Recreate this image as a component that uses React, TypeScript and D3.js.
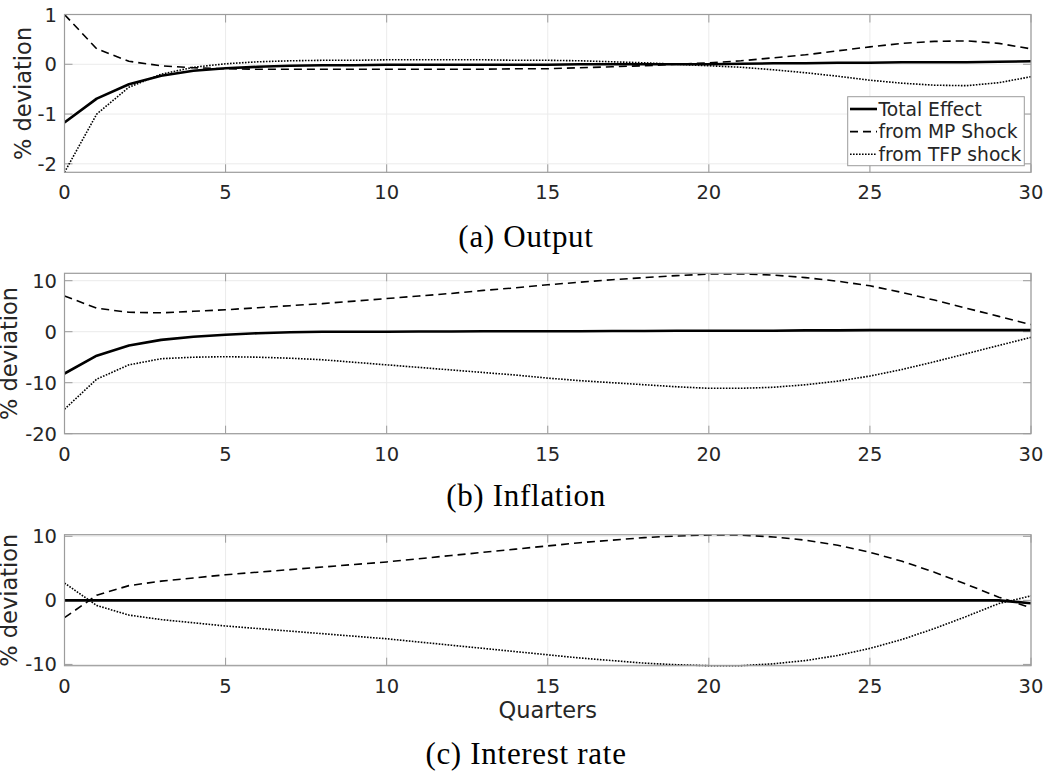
import React from "react";
import * as d3 from "d3";

const QUARTERS = [0,1,2,3,4,5,6,7,8,9,10,11,12,13,14,15,16,17,18,19,20,21,22,23,24,25,26,27,28,29,30];

// (a) Output
const OUT_TOTAL = [-1.17,-0.69,-0.40,-0.23,-0.13,-0.08,-0.05,-0.03,-0.02,-0.02,-0.01,-0.01,-0.01,-0.01,-0.01,-0.01,0.0,0.0,0.0,0.0,0.0,0.01,0.02,0.02,0.03,0.03,0.04,0.04,0.04,0.05,0.06];
const OUT_MP = [1.0,0.31,0.06,-0.03,-0.07,-0.09,-0.10,-0.10,-0.10,-0.10,-0.10,-0.10,-0.10,-0.10,-0.09,-0.09,-0.07,-0.05,-0.03,0.0,0.03,0.07,0.13,0.19,0.27,0.35,0.42,0.46,0.47,0.42,0.31];
const OUT_TFP = [-2.17,-1.0,-0.46,-0.20,-0.06,0.01,0.05,0.07,0.08,0.08,0.09,0.09,0.09,0.09,0.08,0.08,0.07,0.05,0.03,0.0,-0.03,-0.06,-0.11,-0.17,-0.24,-0.32,-0.38,-0.42,-0.43,-0.37,-0.25];

// (b) Inflation
const INF_TOTAL = [-8.2,-4.7,-2.7,-1.6,-1.0,-0.6,-0.3,-0.1,0.0,0.0,0.0,0.05,0.05,0.1,0.1,0.1,0.1,0.15,0.15,0.2,0.2,0.2,0.2,0.25,0.25,0.3,0.3,0.3,0.3,0.3,0.3];
const INF_MP = [7.0,4.6,3.8,3.7,4.0,4.3,4.7,5.1,5.5,6.0,6.5,7.0,7.5,8.1,8.6,9.2,9.7,10.2,10.6,11.0,11.3,11.35,11.1,10.6,9.9,9.0,7.7,6.2,4.6,3.0,1.4];
const INF_TFP = [-15.2,-9.3,-6.5,-5.3,-5.0,-4.9,-5.0,-5.2,-5.5,-6.0,-6.5,-7.0,-7.5,-8.0,-8.5,-9.1,-9.6,-10.0,-10.4,-10.8,-11.1,-11.1,-10.9,-10.4,-9.7,-8.7,-7.4,-5.9,-4.3,-2.7,-1.1];

// (c) Interest rate
const INT_TOTAL = [0.0,0.0,0.0,0.0,0.0,0.0,0.0,0.0,0.0,0.0,0.0,0.0,0.0,0.0,0.0,0.0,0.0,0.0,0.0,0.0,0.0,0.0,0.0,0.0,0.0,0.0,0.0,0.0,0.0,0.0,-0.45];
const INT_MP = [-2.7,0.8,2.3,3.0,3.5,4.0,4.4,4.8,5.2,5.6,6.0,6.5,7.0,7.5,8.0,8.5,9.0,9.4,9.8,10.05,10.2,10.2,9.9,9.4,8.6,7.5,6.1,4.4,2.5,0.5,-1.15];
const INT_TFP = [2.7,-0.8,-2.3,-3.0,-3.5,-4.0,-4.4,-4.8,-5.2,-5.6,-6.0,-6.5,-7.0,-7.5,-8.0,-8.5,-9.0,-9.4,-9.8,-10.05,-10.2,-10.2,-9.9,-9.4,-8.6,-7.5,-6.1,-4.4,-2.5,-0.5,0.7];

const X_TICKS = [0,5,10,15,20,25,30];
const OUT_Y_TICKS = [-2,-1,0,1];
const INF_Y_TICKS = [-20,-10,0,10];
const INT_Y_TICKS = [-10,0,10];

const LEGEND_LABELS = ["Total Effect", "from MP Shock", "from TFP shock"];
const CAPTIONS = ["(a) Output", "(b) Inflation", "(c) Interest rate"];
const Y_LABEL = "% deviation";
const X_LABEL = "Quarters";

const LEFT = 64.5;
const RIGHT = 1031;
const BOX = "#9c9c9c";
const GRID = "#ebebeb";
const TXT = "#262626";
const SANS = "'DejaVu Sans', sans-serif";
const SERIF = "'Liberation Serif', serif";

const STYLES = [
  { width: 2.6, dash: null as string | null },
  { width: 1.6, dash: "8,5" },
  { width: 1.6, dash: "1.6,1.4" },
];

type PanelProps = {
  top: number;
  bottom: number;
  domain: [number, number];
  yTicks: number[];
  series: number[][];
  caption: string;
  captionY: number;
  yLabelX: number;
  showLegend?: boolean;
  showXLabel?: boolean;
};

function Panel(p: PanelProps) {
  const x = d3.scaleLinear().domain([0, 30]).range([LEFT, RIGHT]);
  const y = d3.scaleLinear().domain(p.domain).range([p.bottom, p.top]);
  const line = d3
    .line<number>()
    .x((_, i) => x(QUARTERS[i]))
    .y((d) => y(d));
  const tickLen = 8;
  const clipId = `clip-${Math.round(p.top)}`;
  const midY = (p.top + p.bottom) / 2;
  return (
    <g>
      <defs>
        <clipPath id={clipId}>
          <rect x={LEFT} y={p.top - 2} width={RIGHT - LEFT} height={p.bottom - p.top + 4} />
        </clipPath>
      </defs>
      {X_TICKS.map((t) => (
        <line key={"gx" + t} x1={x(t)} x2={x(t)} y1={p.top} y2={p.bottom} stroke={GRID} strokeWidth={1} />
      ))}
      {p.yTicks.map((t) => (
        <line key={"gy" + t} x1={LEFT} x2={RIGHT} y1={y(t)} y2={y(t)} stroke={GRID} strokeWidth={1} />
      ))}
      {X_TICKS.map((t) => (
        <g key={"tx" + t}>
          <line x1={x(t)} x2={x(t)} y1={p.bottom} y2={p.bottom - tickLen} stroke={BOX} strokeWidth={1} />
          <line x1={x(t)} x2={x(t)} y1={p.top} y2={p.top + tickLen} stroke={BOX} strokeWidth={1} />
        </g>
      ))}
      {p.yTicks.map((t) => (
        <g key={"ty" + t}>
          <line x1={LEFT} x2={LEFT + tickLen} y1={y(t)} y2={y(t)} stroke={BOX} strokeWidth={1} />
          <line x1={RIGHT} x2={RIGHT - tickLen} y1={y(t)} y2={y(t)} stroke={BOX} strokeWidth={1} />
        </g>
      ))}
      <g clipPath={`url(#${clipId})`}>
        {p.series.map((s, i) => (
          <path
            key={"s" + i}
            d={line(s) || ""}
            fill="none"
            stroke="#000"
            strokeWidth={STYLES[i].width}
            strokeDasharray={STYLES[i].dash || undefined}
            strokeLinejoin="round"
          />
        ))}
      </g>
      <rect x={LEFT} y={p.top} width={RIGHT - LEFT} height={p.bottom - p.top} fill="none" stroke={BOX} strokeWidth={1.2} />
      {X_TICKS.map((t) => (
        <text key={"lx" + t} x={x(t)} y={p.bottom + 27} textAnchor="middle" fontFamily={SANS} fontSize={19.5} fill={TXT}>
          {t}
        </text>
      ))}
      {p.yTicks.map((t) => (
        <text key={"ly" + t} x={57} y={y(t)} dy="0.36em" textAnchor="end" fontFamily={SANS} fontSize={19.5} fill={TXT}>
          {t}
        </text>
      ))}
      <text
        transform={`translate(${p.yLabelX},${midY}) rotate(-90)`}
        textAnchor="middle"
        fontFamily={SANS}
        fontSize={22.5}
        fill={TXT}
      >
        {Y_LABEL}
      </text>
      {p.showXLabel && (
        <text x={(LEFT + RIGHT) / 2} y={p.bottom + 52} textAnchor="middle" fontFamily={SANS} fontSize={22.5} fill={TXT}>
          {X_LABEL}
        </text>
      )}
      <text x={526} y={p.captionY} textAnchor="middle" fontFamily={SERIF} fontSize={31} letterSpacing={0.7} fill="#000">
        {p.caption}
      </text>
      {p.showLegend && (
        <g>
          <rect x={847.7} y={96.7} width={176.6} height={69} fill="#fff" stroke={BOX} strokeWidth={1} />
          {LEGEND_LABELS.map((lab, i) => {
            const ly = 109 + i * 22.6;
            return (
              <g key={lab}>
                <line
                  x1={850}
                  x2={877}
                  y1={ly}
                  y2={ly}
                  stroke="#000"
                  strokeWidth={STYLES[i].width}
                  strokeDasharray={STYLES[i].dash || undefined}
                />
                <text x={878.5} y={ly} dy="0.36em" fontFamily={SANS} fontSize={18.7} fill={TXT}>
                  {lab}
                </text>
              </g>
            );
          })}
        </g>
      )}
    </g>
  );
}

export default function App() {
  return (
    <svg
      width={1050}
      height={778}
      viewBox="0 0 1050 778"
      style={{ position: "absolute", left: 0, top: 0, background: "#fff" }}
    >
      <rect x={0} y={0} width={1050} height={778} fill="#fff" />
      <Panel
        top={14.5}
        bottom={172.3}
        domain={[-2.17, 1.0]}
        yTicks={OUT_Y_TICKS}
        series={[OUT_TOTAL, OUT_MP, OUT_TFP]}
        caption={CAPTIONS[0]}
        captionY={246.5}
        yLabelX={31}
        showLegend
      />
      <Panel
        top={273.3}
        bottom={433.7}
        domain={[-20, 11.45]}
        yTicks={INF_Y_TICKS}
        series={[INF_TOTAL, INF_MP, INF_TFP]}
        caption={CAPTIONS[1]}
        captionY={506}
        yLabelX={17}
      />
      <Panel
        top={534.7}
        bottom={665.7}
        domain={[-10.2, 10.25]}
        yTicks={INT_Y_TICKS}
        series={[INT_TOTAL, INT_MP, INT_TFP]}
        caption={CAPTIONS[2]}
        captionY={764}
        yLabelX={17}
        showXLabel
      />
    </svg>
  );
}
